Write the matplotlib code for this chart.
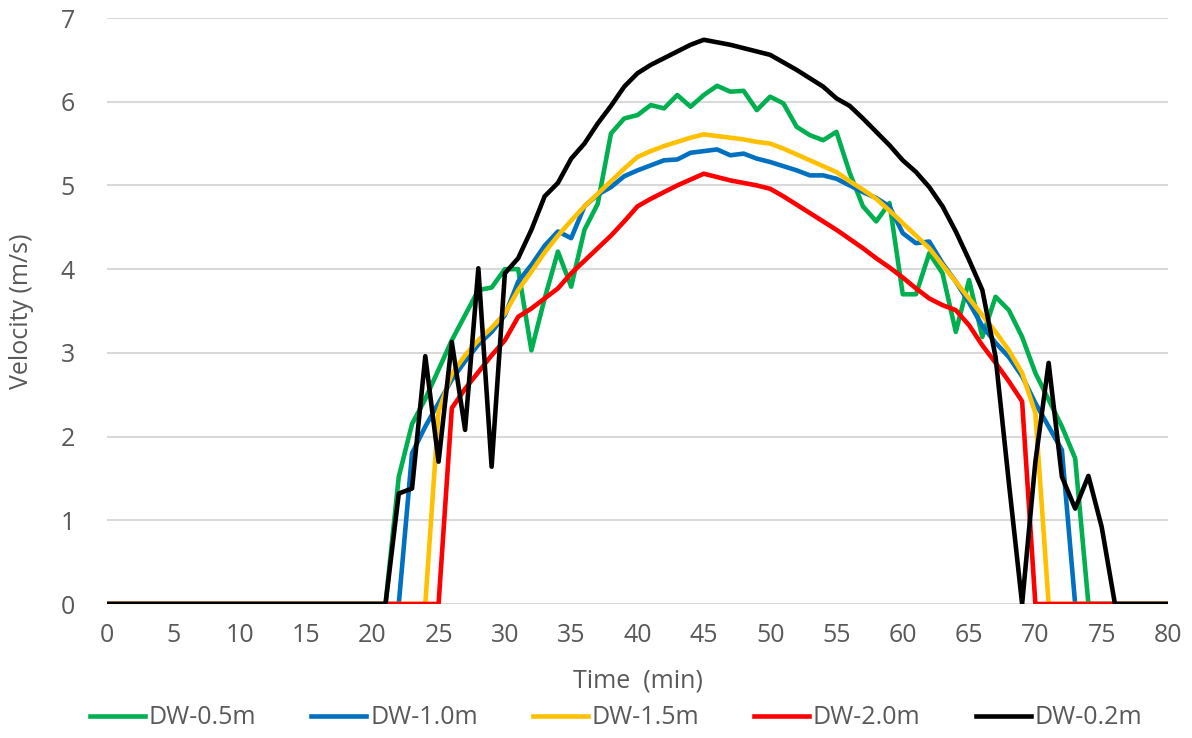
import matplotlib.pyplot as plt

plt.rcParams['font.family'] = ['Open Sans', 'DejaVu Sans']

time_min = list(range(0, 81))

dw_05 = [0, 0, 0, 0, 0, 0, 0, 0, 0, 0, 0, 0, 0, 0, 0, 0, 0, 0, 0, 0, 0, 0,
         1.52, 2.15, 2.45, 2.8, 3.15, 3.45, 3.75, 3.78, 4.0, 4.0, 3.03, 3.65,
         4.21, 3.79, 4.47, 4.78, 5.62, 5.8, 5.84, 5.96, 5.92, 6.08, 5.94, 6.08,
         6.19, 6.12, 6.13, 5.9, 6.06, 5.98, 5.7, 5.6, 5.54, 5.64, 5.15, 4.75,
         4.57, 4.79, 3.7, 3.7, 4.19, 3.95, 3.25, 3.87, 3.19, 3.67, 3.51, 3.19,
         2.76, 2.44, 2.12, 1.74, 0, 0, 0, 0, 0, 0, 0]

dw_10 = [0, 0, 0, 0, 0, 0, 0, 0, 0, 0, 0, 0, 0, 0, 0, 0, 0, 0, 0, 0, 0, 0, 0,
         1.8, 2.12, 2.4, 2.68, 2.9, 3.1, 3.25, 3.45, 3.85, 4.05, 4.28, 4.45,
         4.37, 4.75, 4.89, 4.98, 5.11, 5.18, 5.24, 5.3, 5.31, 5.39, 5.41, 5.43,
         5.36, 5.38, 5.32, 5.28, 5.23, 5.18, 5.12, 5.12, 5.08, 5.0, 4.92, 4.85,
         4.75, 4.43, 4.31, 4.33, 4.07, 3.85, 3.6, 3.32, 3.12, 2.95, 2.72, 2.4,
         2.12, 1.84, 0, 0, 0, 0, 0, 0, 0, 0]

dw_15 = [0, 0, 0, 0, 0, 0, 0, 0, 0, 0, 0, 0, 0, 0, 0, 0, 0, 0, 0, 0, 0, 0, 0,
         0, 0, 2.3, 2.75, 2.97, 3.15, 3.3, 3.47, 3.75, 3.97, 4.2, 4.4, 4.58,
         4.75, 4.9, 5.05, 5.2, 5.34, 5.41, 5.47, 5.52, 5.57, 5.61, 5.59, 5.57,
         5.55, 5.52, 5.5, 5.44, 5.37, 5.3, 5.23, 5.16, 5.05, 4.95, 4.84, 4.7,
         4.55, 4.4, 4.25, 4.05, 3.85, 3.65, 3.45, 3.25, 3.03, 2.76, 2.28, 0, 0,
         0, 0, 0, 0, 0, 0, 0, 0]

dw_20 = [0, 0, 0, 0, 0, 0, 0, 0, 0, 0, 0, 0, 0, 0, 0, 0, 0, 0, 0, 0, 0, 0, 0,
         0, 0, 0, 2.34, 2.57, 2.77, 2.97, 3.15, 3.43, 3.53, 3.65, 3.77, 3.95,
         4.1, 4.25, 4.4, 4.57, 4.75, 4.84, 4.92, 5.0, 5.07, 5.14, 5.1, 5.06,
         5.03, 5.0, 4.96, 4.87, 4.77, 4.67, 4.57, 4.47, 4.36, 4.25, 4.13, 4.02,
         3.9, 3.77, 3.65, 3.57, 3.51, 3.33, 3.09, 2.88, 2.66, 2.42, 0, 0, 0, 0,
         0, 0, 0, 0, 0, 0, 0]

dw_02 = [0, 0, 0, 0, 0, 0, 0, 0, 0, 0, 0, 0, 0, 0, 0, 0, 0, 0, 0, 0, 0, 0,
         1.32, 1.38, 2.96, 1.7, 3.13, 2.08, 4.01, 1.64, 3.95, 4.13, 4.47, 4.87,
         5.03, 5.32, 5.5, 5.74, 5.95, 6.18, 6.34, 6.44, 6.52, 6.6, 6.68, 6.74,
         6.71, 6.68, 6.64, 6.6, 6.56, 6.47, 6.38, 6.28, 6.18, 6.04, 5.95, 5.8,
         5.64, 5.48, 5.3, 5.16, 4.98, 4.75, 4.45, 4.11, 3.75, 2.95, 1.45, 0,
         1.7, 2.88, 1.52, 1.14, 1.53, 0.92, 0, 0, 0, 0, 0]

series = [
    ("DW-0.5m", dw_05, "#00b050"),
    ("DW-1.0m", dw_10, "#0070c0"),
    ("DW-1.5m", dw_15, "#ffc000"),
    ("DW-2.0m", dw_20, "#ff0000"),
    ("DW-0.2m", dw_02, "#000000"),
]

fig = plt.figure(figsize=(11.92, 7.38), dpi=100)
ax = fig.add_axes([107 / 1192, 1 - 604 / 738, (1168 - 107) / 1192, (604 - 18) / 738])

for label, values, color in series:
    ax.plot(time_min, values, color=color, lw=3.3, label=label, solid_joinstyle="round")

ax.set_xlim(0, 80)
ax.set_ylim(0, 7)
ax.set_xticks(range(0, 81, 5))
ax.set_yticks(range(0, 8))
ax.grid(axis="y", color="#d9d9d9", lw=1.5)
ax.set_axisbelow(True)
for side in ["top", "right", "left", "bottom"]:
    ax.spines[side].set_visible(False)
ax.tick_params(length=0, labelsize=18, colors="#595959")
ax.tick_params(axis="x", pad=14)
ax.tick_params(axis="y", pad=23)

ax.set_ylabel("Velocity (m/s)", fontsize=18, color="#595959")
ax.yaxis.set_label_coords(-0.069, 0.5)
ax.set_xlabel("Time  (min)", fontsize=18, color="#595959")
ax.xaxis.set_label_coords(0.5, -0.11)

fig.legend(loc="center", bbox_to_anchor=(616 / 1192, 20 / 738), ncol=5,
           frameon=False, fontsize=18, labelcolor="#595959",
           handlelength=2.2, handletextpad=0.15, columnspacing=2.2)

fig.savefig("out.png", dpi=100)
